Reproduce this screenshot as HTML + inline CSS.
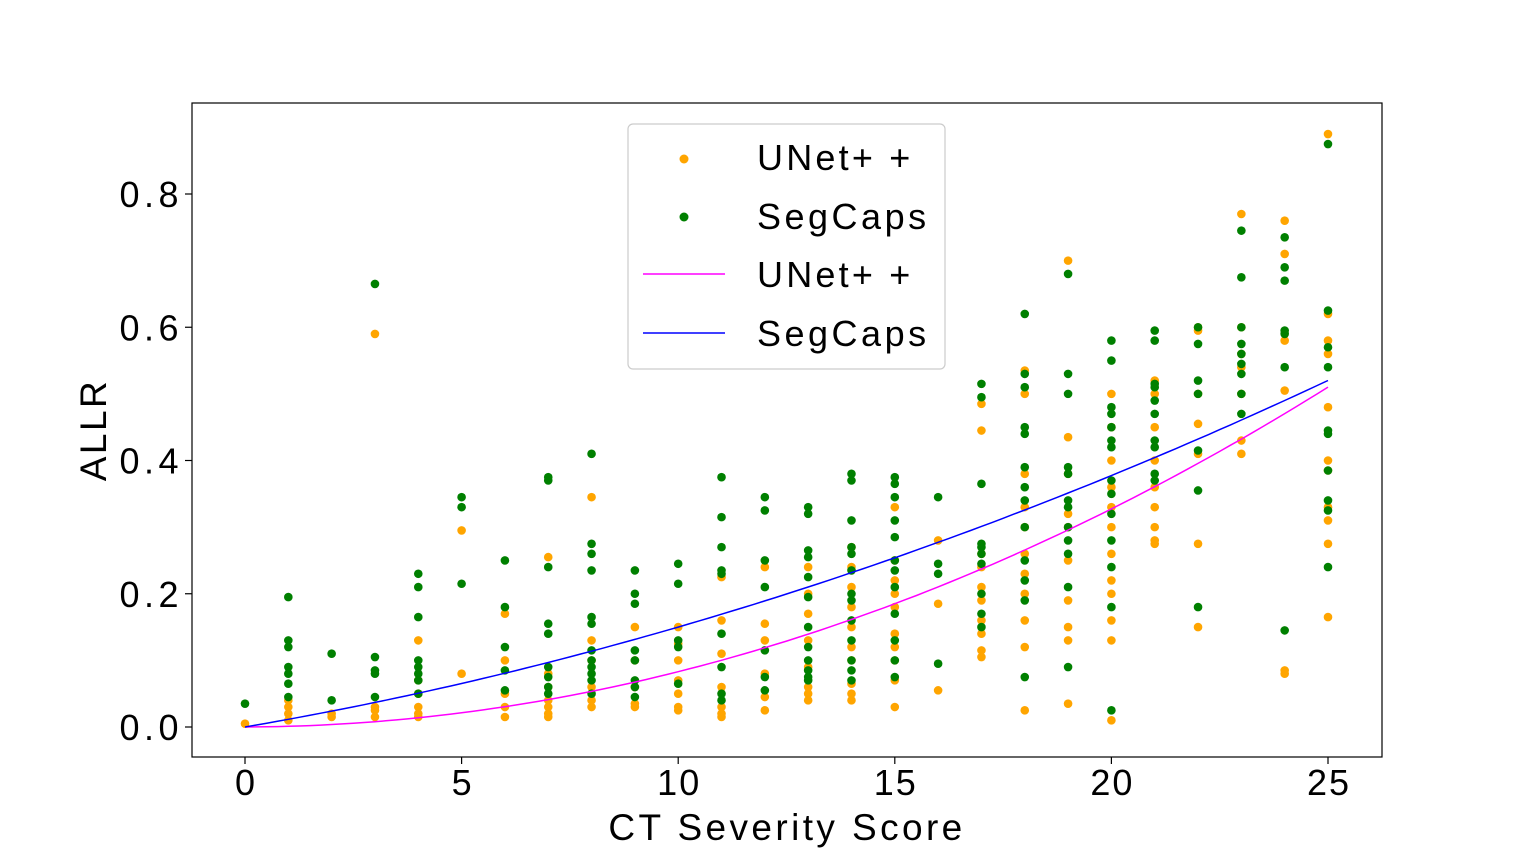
<!DOCTYPE html>
<html><head><meta charset="utf-8"><style>
html,body{margin:0;padding:0;background:#fff;}
svg{display:block;font-family:"Liberation Sans",sans-serif;}
</style></head><body>
<svg id="chart" width="1536" height="864" viewBox="0 0 1536 864">
<rect x="192" y="103" width="1190" height="654" fill="none" stroke="#000" stroke-width="1.2"/>
<g id="xticks"></g>
<g id="yticks"></g>
<g id="marks"></g>
<text x="787" y="840" font-size="37" text-anchor="middle" letter-spacing="3.4">CT Severity Score</text>
<text transform="translate(106,430) rotate(-90)" font-size="37" text-anchor="middle" letter-spacing="2.5">ALLR</text>
<g>
<rect x="628" y="124" width="317" height="245" rx="5" fill="#fff" fill-opacity="0.8" stroke="#ccc" stroke-width="1.2"/>
<g><circle cx="684" cy="159" r="4.5" fill="#ffa500"/><text x="757" y="170" font-size="36" letter-spacing="3.2">UNet+ +</text></g>
<g><circle cx="684" cy="217" r="4.5" fill="#008000"/><text x="757" y="229" font-size="36" letter-spacing="3.5">SegCaps</text></g>
<g><line x1="643" y1="274" x2="725" y2="274" stroke="#ff00ff" stroke-width="1.5"/><text x="757" y="287" font-size="36" letter-spacing="3.2">UNet+ +</text></g>
<g><line x1="643" y1="333" x2="725" y2="333" stroke="#0000ff" stroke-width="1.5"/><text x="757" y="346" font-size="36" letter-spacing="3.5">SegCaps</text></g>
</g>
</svg>
<script>
const xTicks=[0,5,10,15,20,25];
const yTicks=[0.0,0.2,0.4,0.6,0.8];
const yTickLabels=["0.0","0.2","0.4","0.6","0.8"];
const unetPoints=[[0.005],[0.01,0.02,0.03,0.04],[0.015,0.02],[0.59,0.015,0.025,0.03],[0.13,0.015,0.02,0.03,0.05,0.07],[0.295,0.08],[0.17,0.015,0.03,0.05,0.1],[0.255,0.015,0.02,0.03,0.04,0.06,0.08],[0.345,0.03,0.04,0.06,0.1,0.13],[0.15,0.03,0.035,0.06,0.1],[0.15,0.025,0.03,0.05,0.07,0.1,0.125],[0.225,0.015,0.02,0.03,0.06,0.11,0.16],[0.24,0.025,0.045,0.08,0.13,0.155],[0.24,0.04,0.05,0.06,0.09,0.13,0.17,0.2],[0.24,0.04,0.05,0.065,0.1,0.12,0.15,0.18,0.21,0.27],[0.33,0.03,0.07,0.1,0.12,0.14,0.18,0.2,0.22,0.25],[0.28,0.055,0.185],[0.485,0.445,0.105,0.115,0.14,0.16,0.19,0.21,0.24,0.26],[0.535,0.5,0.025,0.12,0.16,0.2,0.23,0.26,0.3,0.33,0.38],[0.7,0.435,0.035,0.13,0.15,0.19,0.25,0.3,0.32,0.38],[0.5,0.01,0.13,0.16,0.2,0.22,0.26,0.3,0.33,0.36,0.4,0.45],[0.52,0.275,0.28,0.3,0.33,0.36,0.4,0.45,0.5],[0.6,0.595,0.455,0.41,0.275,0.15,0.5],[0.77,0.6,0.56,0.54,0.5,0.43,0.41],[0.76,0.71,0.58,0.505,0.08,0.085],[0.89,0.62,0.58,0.56,0.48,0.4,0.385,0.33,0.31,0.275,0.165]];
const segcapsPoints=[[0.035],[0.195,0.13,0.12,0.09,0.08,0.065,0.045],[0.11,0.04],[0.665,0.105,0.085,0.08,0.045],[0.23,0.21,0.165,0.1,0.09,0.08,0.07,0.05],[0.345,0.33,0.215],[0.25,0.18,0.12,0.085,0.055],[0.375,0.37,0.24,0.155,0.14,0.09,0.075,0.06,0.05],[0.41,0.275,0.26,0.235,0.165,0.155,0.115,0.1,0.09,0.08,0.07,0.05],[0.235,0.2,0.185,0.115,0.1,0.07,0.06,0.045],[0.245,0.215,0.13,0.12,0.065],[0.375,0.315,0.27,0.235,0.23,0.14,0.09,0.05,0.04],[0.345,0.325,0.25,0.21,0.115,0.075,0.055],[0.33,0.32,0.265,0.255,0.225,0.195,0.15,0.12,0.1,0.085,0.075,0.07],[0.38,0.37,0.31,0.27,0.26,0.235,0.2,0.19,0.16,0.13,0.1,0.085,0.07],[0.375,0.365,0.345,0.31,0.285,0.25,0.235,0.21,0.17,0.13,0.1,0.075],[0.345,0.245,0.23,0.095],[0.515,0.495,0.365,0.275,0.27,0.26,0.245,0.2,0.17,0.15],[0.62,0.53,0.51,0.45,0.44,0.39,0.36,0.34,0.3,0.25,0.22,0.19,0.075],[0.68,0.53,0.5,0.39,0.38,0.34,0.33,0.3,0.28,0.26,0.21,0.09],[0.58,0.55,0.48,0.47,0.45,0.43,0.42,0.37,0.35,0.32,0.28,0.24,0.18,0.025],[0.595,0.58,0.515,0.51,0.49,0.47,0.43,0.42,0.38,0.37],[0.6,0.575,0.52,0.5,0.415,0.355,0.18],[0.745,0.675,0.6,0.575,0.56,0.545,0.53,0.5,0.47],[0.735,0.69,0.67,0.595,0.59,0.54,0.145],[0.875,0.625,0.57,0.54,0.445,0.44,0.385,0.34,0.325,0.24]];
const unetFitCoef=[0,0.00023,0.000807];
const segcapsFitCoef=[0,0.01113,0.000387];

const NS="http://www.w3.org/2000/svg";
const xS=v=>245+v*(1328-245)/25;
const yS=v=>727-v*(727-194)/0.8;
function mk(t,a,p){const e=document.createElementNS(NS,t);for(const k in a)e.setAttribute(k,a[k]);p.appendChild(e);return e;}
const xg=document.getElementById('xticks'),yg=document.getElementById('yticks'),mg=document.getElementById('marks');
xTicks.forEach(v=>{
  const l=mk('line',{x1:xS(v),x2:xS(v),y1:757,y2:764,stroke:'#000','stroke-width':1.2},xg);
  
  
  const t=mk('text',{x:xS(v)+1,y:795,'font-size':36,'text-anchor':'middle','letter-spacing':2},xg);t.textContent=v;
  
  
});
yTicks.forEach((v,i)=>{
  const l=mk('line',{x1:185,x2:192,y1:yS(v),y2:yS(v),stroke:'#000','stroke-width':1.2},yg);
  
  
  const t=mk('text',{x:183,y:yS(v)+13,'font-size':36,'text-anchor':'end','letter-spacing':4.5},yg);t.textContent=yTickLabels[i];
  
  
});
function scatter(arr,color,name){
  arr.forEach((vals,x)=>vals.forEach(v=>{
    const c=mk('circle',{cx:xS(x),cy:yS(v),r:4.3,fill:color},mg);
    
    
  }));
}
scatter(unetPoints,'#ffa500','unet-point');
scatter(segcapsPoints,'#008000','segcaps-point');
function fit(coef,color,name){
  let d='';
  for(let i=0;i<=100;i++){const x=i*25/100;const y=coef[0]+coef[1]*x+coef[2]*x*x;d+=(i?'L':'M')+xS(x).toFixed(1)+','+yS(y).toFixed(1);}
  const p=mk('path',{d:d,fill:'none',stroke:color,'stroke-width':1.5},mg);
  
  
}
fit(unetFitCoef,'#ff00ff','unet-fit-line');
fit(segcapsFitCoef,'#0000ff','segcaps-fit-line');
</script>
</body></html>
